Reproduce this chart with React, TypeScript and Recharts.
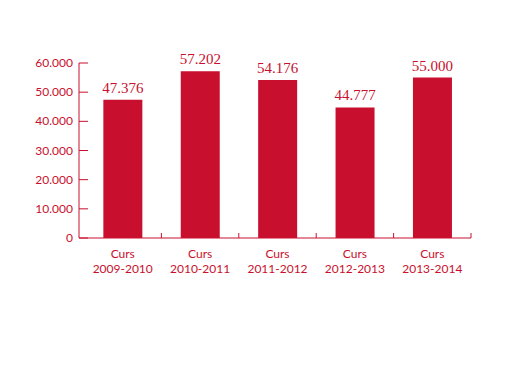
import React from 'react';
import { BarChart, Bar, XAxis, YAxis, LabelList } from 'recharts';

const cursos = ['2009-2010', '2010-2011', '2011-2012', '2012-2013', '2013-2014'];
const alumnes = [47376, 57202, 54176, 44777, 55000];
const yTicks = [0, 10000, 20000, 30000, 40000, 50000, 60000];

const data = cursos.map((c, i) => ({ curs: c, valor: alumnes[i] }));

const RED = '#c8102e';
const W = 518;
const H = 381;
const margin = { top: 63, right: 47, bottom: 103, left: 0 };
const yAxisWidth = 79;
const padLeft = 5;
const axisX = margin.left + yAxisWidth;
const band = (W - margin.left - margin.right - yAxisWidth - padLeft) / cursos.length;

const fmt = (v: number) => String(v).replace(/\B(?=(\d{3})+(?!\d))/g, '.');

function YTick(props: any) {
  const { y, payload } = props;
  return (
    <g>
      <line x1={axisX} x2={axisX + 9} y1={y} y2={y} stroke={RED} strokeWidth={1} />
      <text x={axisX - 6} y={y} dy={4} textAnchor="end" fill={RED} fontFamily="Lato, sans-serif" fontSize={12}>
        {fmt(payload.value)}
      </text>
    </g>
  );
}

function XTick(props: any) {
  const { x, y, payload } = props;
  const tx = x + band / 2;
  return (
    <g>
      <line x1={tx} x2={tx} y1={y} y2={y - 5} stroke={RED} strokeWidth={1} />
      <text x={x} y={y + 20} textAnchor="middle" fill={RED} fontFamily="Lato, sans-serif" fontSize={12}>
        Curs
      </text>
      <text x={x} y={y + 35} textAnchor="middle" fill={RED} fontFamily="Lato, sans-serif" fontSize={12}>
        {payload.value}
      </text>
    </g>
  );
}

export default function App() {
  return (
    <div style={{ position: 'absolute', left: 0, top: 0, background: '#fff' }}>
      <BarChart width={W} height={H} data={data} margin={margin} barCategoryGap="25%">
        <XAxis
          dataKey="curs"
          height={40}
          padding={{ left: padLeft, right: 0 }}
          axisLine={{ stroke: RED, strokeWidth: 1 }}
          tickLine={false}
          tickSize={0}
          tickMargin={0}
          tick={<XTick />}
          interval={0}
        />
        <YAxis
          width={yAxisWidth}
          domain={[0, 60000]}
          ticks={yTicks}
          axisLine={{ stroke: RED, strokeWidth: 1 }}
          tickLine={false}
          tickSize={0}
          tickMargin={0}
          tick={<YTick />}
          interval={0}
        />
        <Bar dataKey="valor" fill={RED} isAnimationActive={false}>
          <LabelList
            dataKey="valor"
            position="top"
            offset={7}
            formatter={(v: any) => fmt(v)}
            fill={RED}
            fontFamily="'Liberation Serif', serif"
            fontSize={15}
          />
        </Bar>
      </BarChart>
    </div>
  );
}
